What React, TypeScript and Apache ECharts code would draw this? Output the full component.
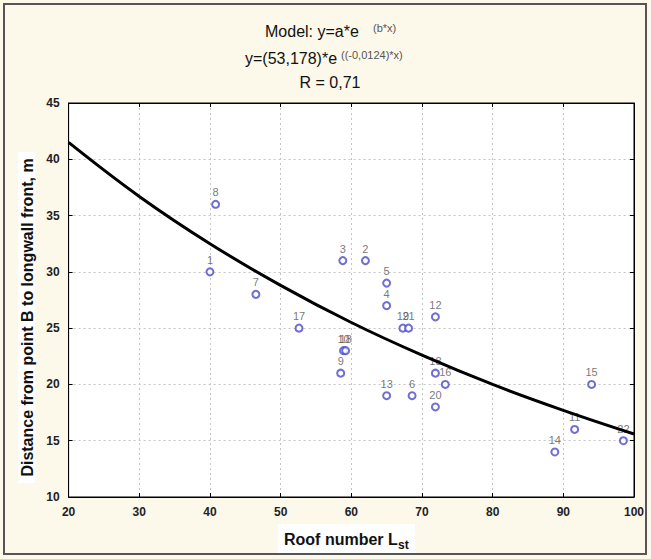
import React, { useEffect, useRef } from "react";
import * as echarts from "echarts";

const pointLabels = ["1", "2", "3", "4", "5", "6", "7", "8", "9", "10", "11", "12", "13", "14", "15", "16", "17", "18", "19", "20", "21", "22", "18"];
const pointX = [40, 62, 58.8, 65, 65, 68.6, 46.5, 40.8, 58.5, 58.9, 91.6, 71.9, 65, 88.8, 94, 73.3, 52.6, 59.2, 67.3, 71.9, 68.1, 98.5, 71.9];
const pointY = [30, 31, 31, 27, 29, 19, 28, 36, 21, 23, 16, 26, 19, 14, 20, 20, 25, 23, 25, 18, 25, 15, 21];

// Fitted curve
const curveX = [20, 30, 40, 50, 60, 70, 80, 90, 100];
const curveY = [41.5, 36.7, 32.5, 28.8, 25.5, 22.6, 20.0, 17.7, 15.6];

const xTicks = { min: 20, max: 100, interval: 10 };
const yTicks = { min: 10, max: 45, interval: 5 };

export default function App() {
  const ref = useRef<HTMLDivElement>(null);
  useEffect(() => {
    document.body.style.margin = "0";
    const chart = echarts.init(ref.current!, null, { renderer: "svg" });
    const font = "Arial, 'Liberation Sans', sans-serif";
    const gridLine = { show: true, lineStyle: { color: "#c4c4c4", type: [2, 3] as any, width: 1 } };
    const axisLine = { show: true, lineStyle: { color: "#000", width: 1 } };
    const tick = { show: true, inside: true, length: 4, lineStyle: { color: "#000" } };
    const tickLabel = { fontFamily: font, fontWeight: "bold" as const, fontSize: 12, color: "#222" };
    chart.setOption({
      animation: false,
      backgroundColor: "#fcf8ea",
      grid: {
        left: 68.6, top: 103, right: 17, bottom: 62,
        show: true, backgroundColor: "#fff", borderColor: "#000", borderWidth: 1,
      },
      xAxis: [
        {
          type: "value", ...xTicks, position: "bottom",
          axisLine, axisTick: tick, splitLine: gridLine,
          axisLabel: { ...tickLabel, margin: 9 },
        },
        {
          type: "value", ...xTicks, position: "top",
          axisLine, axisTick: tick, splitLine: { show: false }, axisLabel: { show: false },
        },
      ],
      yAxis: [
        {
          type: "value", ...yTicks, position: "left",
          axisLine, axisTick: tick, splitLine: gridLine,
          axisLabel: { ...tickLabel, margin: 9 },
        },
        {
          type: "value", ...yTicks, position: "right",
          axisLine, axisTick: tick, splitLine: { show: false }, axisLabel: { show: false },
        },
      ],
      series: [
        {
          type: "scatter",
          z: 2,
          symbol: "emptyCircle",
          symbolSize: 7,
          itemStyle: { color: "#4a4ac8", borderWidth: 1 },
          label: {
            show: true, position: "top", distance: 2,
            formatter: (p: any) => p.name,
            fontFamily: font, fontSize: 11, color: "#555",
          },
          data: pointX.map((x, i) => ({ name: pointLabels[i], value: [x, pointY[i]] })),
        },
        {
          type: "line",
          z: 5,
          smooth: 0.4,
          showSymbol: false,
          lineStyle: { color: "#000", width: 3 },
          data: curveX.map((x, i) => [x, curveY[i]]),
        },
      ],
      graphic: [
        { type: "rect", shape: { x: 4, y: 4, width: 642, height: 550 }, style: { fill: "none", stroke: "#555", lineWidth: 2 }, silent: true },
        { type: "text", x: 265, y: 31, style: { text: "Model: y=a*e", font: `16px ${font}`, fill: "#111", verticalAlign: "middle" } },
        { type: "text", x: 373, y: 28, style: { text: "(b*x)", font: `11px ${font}`, fill: "#555", verticalAlign: "middle" } },
        { type: "text", x: 245, y: 58, style: { text: "y=(53,178)*e", font: `16px ${font}`, fill: "#111", verticalAlign: "middle" } },
        { type: "text", x: 341, y: 55, style: { text: "((-0,0124)*x)", font: `11px ${font}`, fill: "#555", verticalAlign: "middle" } },
        { type: "text", x: 330, y: 82, style: { text: "R = 0,71", font: `16px ${font}`, fill: "#111", align: "center", verticalAlign: "middle" } },
        { type: "rect", shape: { x: 18, y: 152, width: 17, height: 331 }, style: { fill: "#fff" }, silent: true },
        {
          type: "text", x: 27, y: 317.5, rotation: Math.PI / 2,
          style: { text: "Distance from point B to longwall front, m", font: `bold 16px ${font}`, fill: "#111", align: "center", verticalAlign: "middle" },
        },
        { type: "rect", shape: { x: 278, y: 524, width: 137, height: 29 }, style: { fill: "#fff" }, silent: true },
        { type: "text", x: 284, y: 539, style: { text: "Roof number L", font: `bold 16px ${font}`, fill: "#111", verticalAlign: "middle" } },
        { type: "text", x: 398, y: 545, style: { text: "st", font: `bold 12px ${font}`, fill: "#111", verticalAlign: "middle" } },
      ],
    });
    return () => chart.dispose();
  }, []);
  return <div ref={ref} style={{ width: 651, height: 559 }} />;
}
